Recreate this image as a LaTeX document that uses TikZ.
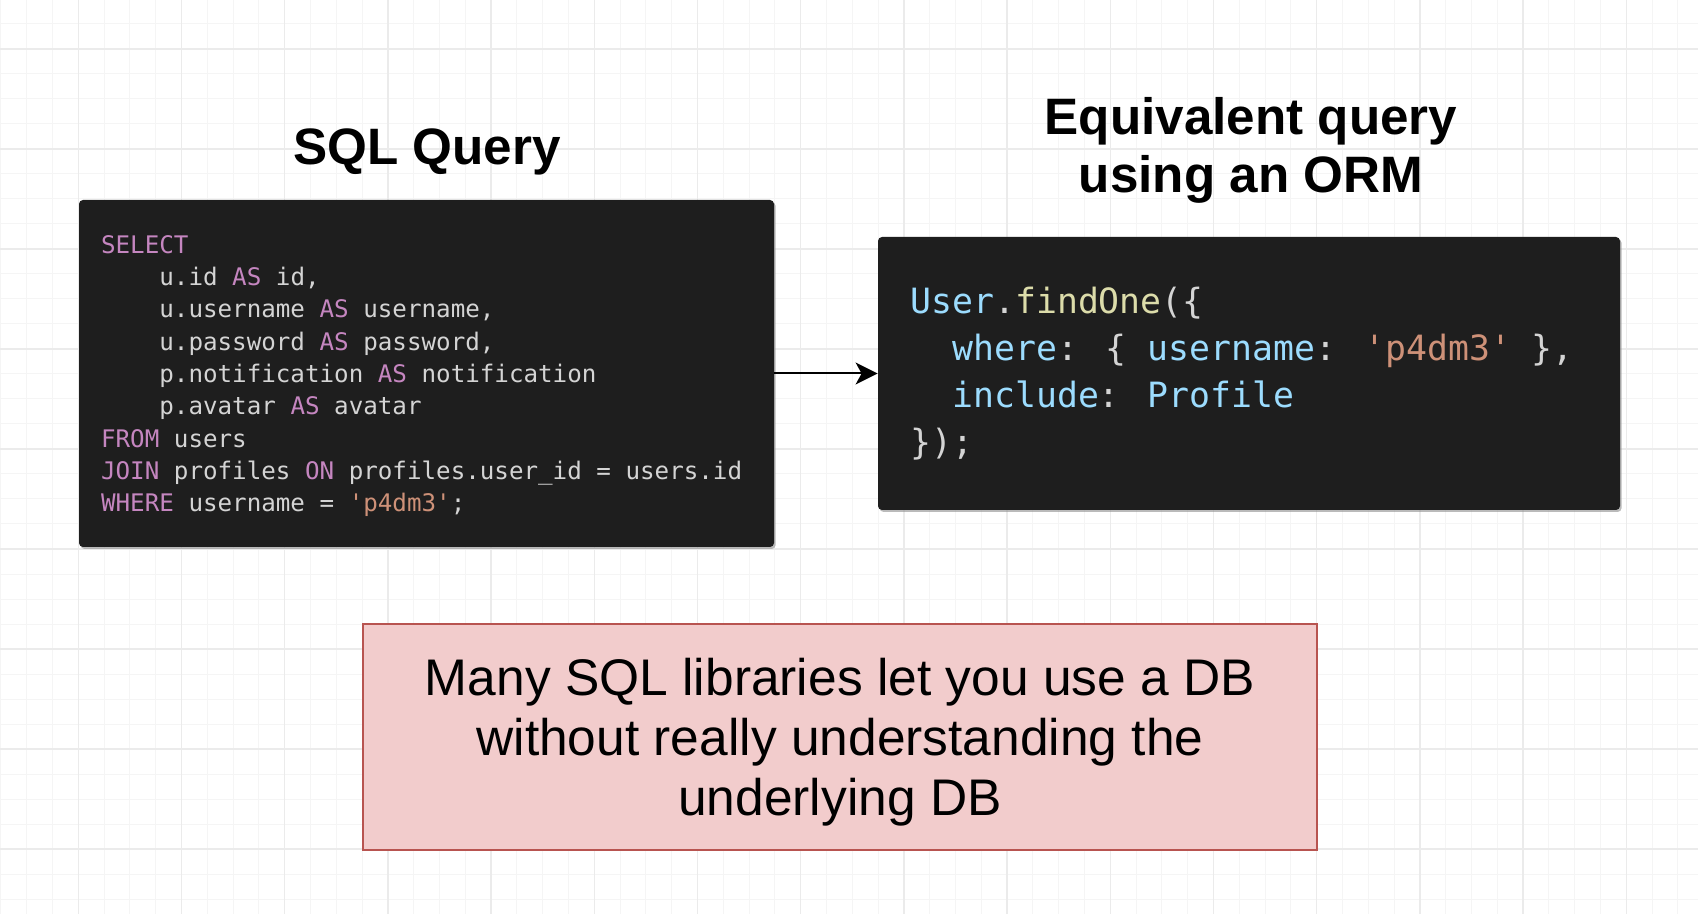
\documentclass[tikz,border=0pt]{standalone}
\usepackage{fontspec}
\setmainfont{Liberation Sans}
\newfontfamily\codefont{DejaVu Sans Mono}
\usetikzlibrary{arrows.meta,shadows}
\definecolor{gridminor}{HTML}{F5F5F5}
\definecolor{gridmajor}{HTML}{EBEBEB}
\definecolor{codebg}{HTML}{1E1E1E}
\definecolor{kwcol}{HTML}{C586C0}
\definecolor{plaincol}{HTML}{D4D4D4}
\definecolor{strcol}{HTML}{CE9178}
\definecolor{varcol}{HTML}{9CDCFE}
\definecolor{fncol}{HTML}{DCDCAA}
\definecolor{notefill}{HTML}{F2CCCC}
\definecolor{noteline}{HTML}{B85450}
\newcommand\sqlkw[1]{\textcolor{kwcol}{#1}}
\newcommand\codestr[1]{\textcolor{strcol}{#1}}
\newcommand\codevar[1]{\textcolor{varcol}{#1}}
\newcommand\codefn[1]{\textcolor{fncol}{#1}}
\newcommand\codeindent[1]{\hphantom{#1}}
\begin{document}
\begin{tikzpicture}[x=0.5pt,y=-0.5pt,
  minorline/.style={gridminor,line width=0.5pt},
  majorline/.style={gridmajor,line width=0.7pt},
  codebox/.style={fill=codebg,rounded corners=2pt,inner sep=0pt,
    drop shadow={shadow xshift=0.8pt,shadow yshift=-1pt,fill=black!45,opacity=0.6}},
  codetext/.style={text=plaincol,inner sep=0pt,align=left},
  titletext/.style={font=\bfseries\fontsize{25.6}{29.2}\selectfont,inner sep=0pt,align=center},
  notebox/.style={fill=notefill,draw=noteline,line width=1pt,inner sep=0pt},
  notetext/.style={inner sep=0pt,align=center,font=\fontsize{25.75}{30}\selectfont},
  connector/.style={line width=1pt,-{Stealth[length=11pt,width=11pt,inset=3pt]}}]
\useasboundingbox (0,0) rectangle (1698,914);
\fill[white] (0,0) rectangle (1698,914);
% grid
\foreach \i in {0,...,65} \draw[minorline] ({0.8+25.8*\i},0) -- ({0.8+25.8*\i},914);
\foreach \j in {0,...,35} \draw[minorline] (0,{24+25*\j}) -- (1698,{24+25*\j});
\foreach \i in {0,...,15} \draw[majorline] ({78.2+103.2*\i},0) -- ({78.2+103.2*\i},914);
\foreach \j in {0,...,8} \draw[majorline] (0,{49+100*\j}) -- (1698,{49+100*\j});
% titles
\node[titletext,anchor=base] (sqltitle) at (427,164.6) {SQL Query};
\node[titletext,anchor=base] (ormtitle) at (1251,192.7) {Equivalent query\\using an ORM};
% code boxes
\node[codebox,minimum width=347.5pt,minimum height=173.5pt] (sql) at (426.5,373.5) {};
\node[codebox,minimum width=371pt,minimum height=136.5pt] (orm) at (1249,373.5) {};
\node[codetext,anchor=base west,font=\codefont\fontsize{12.1}{16.15}\selectfont] (sqlcode) at (100.7,511.7) {%
\sqlkw{SELECT}\\
\codeindent{xxxx}u.id \sqlkw{AS} id,\\
\codeindent{xxxx}u.username \sqlkw{AS} username,\\
\codeindent{xxxx}u.password \sqlkw{AS} password,\\
\codeindent{xxxx}p.notification \sqlkw{AS} notification\\
\codeindent{xxxx}p.avatar \sqlkw{AS} avatar\\
\sqlkw{FROM} users\\
\sqlkw{JOIN} profiles \sqlkw{ON} profiles.user\_id = users.id\\
\sqlkw{WHERE} username = \codestr{\textquotesingle p4dm3\textquotesingle};};
\node[codetext,anchor=base west,font=\codefont\fontsize{17.4}{23.6}\selectfont] (ormcode) at (910,455) {%
\codevar{User}.\codefn{findOne}(\{\\
\codeindent{xx}\codevar{where}: \{ \codevar{username}: \codestr{\textquotesingle p4dm3\textquotesingle} \},\\
\codeindent{xx}\codevar{include}: \codevar{Profile}\\
\});};
% note
\node[notebox,minimum width=477pt,minimum height=113pt] (notebg) at (840,737) {};
\node[notetext,anchor=base] (note) at (840,815.5)
  {Many SQL libraries let you use a DB\\without really understanding the\\underlying DB};
% connector
\draw[connector] (sql.east) -- (orm.west);
\end{tikzpicture}
\end{document}
